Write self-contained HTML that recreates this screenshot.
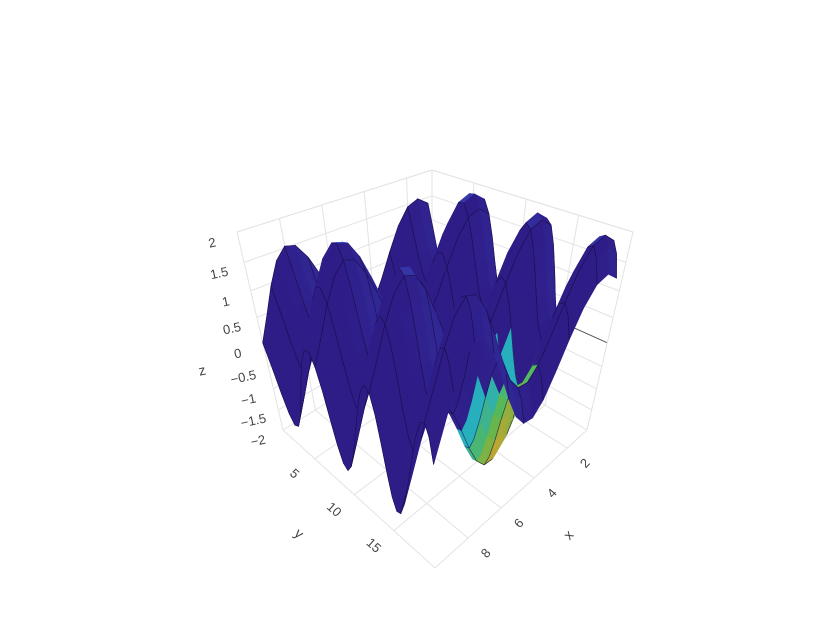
<!DOCTYPE html>
<html><head><meta charset="utf-8">
<style>
html,body{margin:0;padding:0;background:#fff;}
svg{display:block;font-family:"Liberation Sans",sans-serif;}
</style></head>
<body>
<svg id="chart" width="840" height="630" viewBox="0 0 840 630"></svg>
<script>
const xValues=[1,1.5,2,2.5,3,3.5,4,4.5,5,5.5,6,6.5,7,7.5,8,8.5,9,9.5,10];
const yValues=[1,1.5,2,2.5,3,3.5,4,4.5,5,5.5,6,6.5,7,7.5,8,8.5,9,9.5,10,10.5,11,11.5,12,12.5,13,13.5,14,14.5,15,15.5,16,16.5,17,17.5,18,18.5,19,19.5,20];
const zFromX=[0.84,1.00,0.91,0.60,0.14,-0.35,-0.76,-0.98,-0.96,-0.71,-0.28,0.22,0.66,0.94,0.99,0.80,0.41,-0.08,-0.54];
const zFromY=[0.54,0.07,-0.42,-0.80,-0.99,-0.94,-0.65,-0.21,0.28,0.71,0.96,0.98,0.75,0.35,-0.15,-0.60,-0.91,-1.00,-0.84,-0.48,0.00,0.48,0.84,1.00,0.91,0.59,0.14,-0.35,-0.76,-0.98,-0.96,-0.70,-0.28,0.22,0.66,0.94,0.99,0.80,0.41];
const xTicks=[2,4,6,8];
const yTicks=[5,10,15];
const zTicks=[-2,-1.5,-1,-0.5,0,0.5,1,1.5,2];
const zTickLabels=["−2","−1.5","−1","−0.5","0","0.5","1","1.5","2"];

const NS="http://www.w3.org/2000/svg";
const svg=document.getElementById('chart');
const X0=0.8,X1=10,Y0=1,Y1=20.2,Z0=-2,Z1=2;
const C={
 '000':[432,338],'100':[283,430],'010':[587,430],'110':[435,568],
 '001':[432,170],'101':[237,232],'011':[633,232],'111':[436,318]
};
function L(a,b,t){return [a[0]+(b[0]-a[0])*t,a[1]+(b[1]-a[1])*t];}
function proj(x,y,z){
 const U=(x-X0)/(X1-X0), V=(y-Y0)/(Y1-Y0);
 const w0=(z-Z0)/(Z1-Z0);
 const w=w0/(1+0.27*(1-w0));
 const g=(a,b,c)=>C[''+a+b+c];
 const f0=L(L(g(0,0,0),g(1,0,0),U),L(g(0,1,0),g(1,1,0),U),V);
 const f1=L(L(g(0,0,1),g(1,0,1),U),L(g(0,1,1),g(1,1,1),U),V);
 return L(f0,f1,w);
}
function el(tag,attrs,parent){const e=document.createElementNS(NS,tag);for(const k in attrs)e.setAttribute(k,attrs[k]);(parent||svg).appendChild(e);return e;}
function line(p,q,stroke,w,parent){return el('line',{x1:p[0],y1:p[1],x2:q[0],y2:q[1],stroke:stroke,'stroke-width':w},parent);}

const grid=el('g',{});


const gc='#e3e3e3';
zTicks.forEach(z=>{
 const c=z===0?'#555':gc;
 line(proj(X0,Y0,z),proj(X0,Y1,z),c,1,grid);
 line(proj(X0,Y0,z),proj(X1,Y0,z),c,1,grid);
});
xTicks.forEach(x=>{
 line(proj(x,Y0,Z0),proj(x,Y1,Z0),gc,1,grid);
 line(proj(x,Y0,Z0),proj(x,Y0,Z1),gc,1,grid);
});
yTicks.forEach(y=>{
 line(proj(X0,y,Z0),proj(X1,y,Z0),gc,1,grid);
 line(proj(X0,y,Z0),proj(X0,y,Z1),gc,1,grid);
});
[[[X1,Y0,Z0],[X1,Y1,Z0]],[[X0,Y1,Z0],[X1,Y1,Z0]],[[X1,Y0,Z0],[X1,Y0,Z1]],[[X0,Y1,Z0],[X0,Y1,Z1]],[[X0,Y0,Z1],[X1,Y0,Z1]],[[X0,Y0,Z1],[X0,Y1,Z1]],[[X0,Y0,Z0],[X0,Y0,Z1]]].forEach(e=>line(proj(...e[0]),proj(...e[1]),gc,1,grid));

const surf=el('g',{});


const faces=[];
for(let i=0;i<xValues.length-1;i++){
 for(let j=0;j<yValues.length-1;j++){
  const pts=[[i,j],[i+1,j],[i+1,j+1],[i,j+1]].map(([a,b])=>[xValues[a],yValues[b],zFromX[a]+zFromY[b]]);
  const zm=pts.reduce((s,p)=>s+p[2],0)/4;
  const dzx=((pts[1][2]+pts[2][2])-(pts[0][2]+pts[3][2]))/2/(xValues[i+1]-xValues[i]);
  const dzy=((pts[2][2]+pts[3][2])-(pts[0][2]+pts[1][2]))/2/(yValues[j+1]-yValues[j]);
  const depth=(xValues[i]-X0)/(X1-X0)+(yValues[j]-Y0)/(Y1-Y0)+0.03*(zm+2)/4;
  faces.push({pts,zm,dzx,dzy,depth,i,j});
 }
}
faces.sort((a,b)=>a.depth-b.depth);
function mix(a,b,t){return 'rgb('+a.map((v,k)=>Math.round(v+(b[k]-v)*t)).join(',')+')';}
const isInt=v=>Math.abs(v-Math.round(v))<1e-6;
faces.forEach(f=>{
 const sp=f.pts.map(p=>proj(...p));
 const slope=Math.sqrt(f.dzx*f.dzx+f.dzy*f.dzy);
 const cx=(f.pts[0][0]+f.pts[2][0])/2, cy=(f.pts[0][1]+f.pts[2][1])/2;
 let fill;
 if(f.zm<0.1 && cx>=3.2 && cx<=6.3 && cy>=12.5 && cy<=19){
  const t=Math.max(0,Math.min(1,1-Math.abs(cx-4.6)/1.7-Math.abs(cy-16.5)/5));
  fill=t<0.4?mix([40,175,190],[90,185,80],t/0.4):mix([90,185,80],[215,160,40],(t-0.4)/0.6);
 } else {
  const flat=Math.max(0,1-slope/0.45);
  const lit=Math.max(0,(f.dzx*0.6-f.dzy*0.4));
  fill=mix([46,28,135],[70,115,240],Math.min(1,flat*flat*0.9+0.15*Math.min(1,lit)));
 }
 const p=el('polygon',{points:sp.map(q=>q[0].toFixed(1)+','+q[1].toFixed(1)).join(' '),fill:fill,stroke:fill,'stroke-width':0.6},surf);
 
 
 for(let k=0;k<4;k++){
  const a=f.pts[k],b=f.pts[(k+1)%4];
  if((a[0]===b[0]&&isInt(a[0]))||(a[1]===b[1]&&isInt(a[1])&&Math.round(a[1])%3===1)){
   const ln=line(sp[k],sp[(k+1)%4],'#140c38',0.6,surf);
   ln.setAttribute('stroke-opacity','0.75');
  }
 }
});

const lab=el('g',{fill:'#444','font-size':13});


zTicks.forEach((z,k)=>{
 const p=proj(X1,Y0,z);const a=p[0]-24,b=p[1]+15;
 const t=el('text',{x:a,y:b,'text-anchor':'middle',transform:'rotate(-12 '+a+' '+b+')'},lab);
 t.textContent=zTickLabels[k];
 
 
});
xTicks.forEach(x=>{
 const p=proj(x,Y1,Z0);const a=p[0]+21,b=p[1]+18;
 const t=el('text',{x:a,y:b,'text-anchor':'middle',transform:'rotate(-48 '+a+' '+b+')'},lab);
 t.textContent=x;
 
 
});
yTicks.forEach(y=>{
 const p=proj(X1,y,Z0);const a=p[0]-23,b=p[1]+18;
 const t=el('text',{x:a,y:b,'text-anchor':'middle',transform:'rotate(42 '+a+' '+b+')'},lab);
 t.textContent=y;
 
 
});
[['x',572,538,-48,'x-axis-title'],['y',296,537,42,'y-axis-title'],['z',203,375,-12,'z-axis-title']].forEach(d=>{
 const t=el('text',{x:d[1],y:d[2],'text-anchor':'middle','font-size':14,transform:'rotate('+d[3]+' '+d[1]+' '+d[2]+')'},lab);
 t.textContent=d[0];
 
 
});
</script>
</body></html>
